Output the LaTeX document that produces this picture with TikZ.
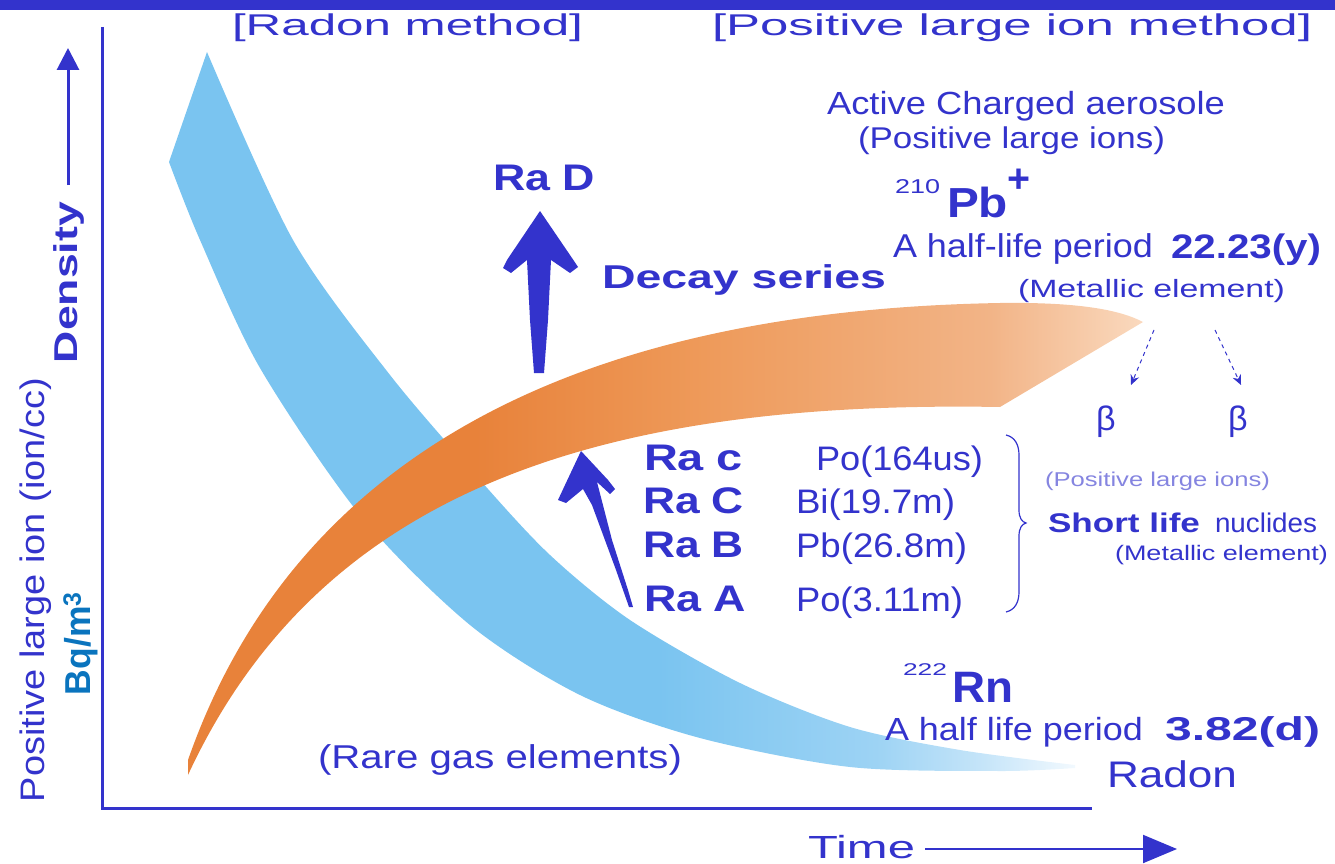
\documentclass[tikz,border=0pt]{standalone}
\usepackage{fontspec}
\setmainfont{Liberation Sans}
\usepackage{graphicx}
\usetikzlibrary{arrows.meta}
\definecolor{mblue}{HTML}{3333CC}
\definecolor{bqblue}{HTML}{0A74BE}
\definecolor{bA}{HTML}{7AC4F0}
\definecolor{bB}{HTML}{9DD3F4}
\definecolor{bC}{HTML}{C6E5F9}
\definecolor{bD}{HTML}{F2F9FE}
\definecolor{oA}{HTML}{E8823A}
\definecolor{oB}{HTML}{EE9A5A}
\definecolor{oC}{HTML}{F2B487}
\definecolor{oD}{HTML}{FAD9BE}
\pgfdeclarehorizontalshading{blueband}{100bp}{color(0bp)=(bA); color(25bp)=(bA); color(52bp)=(bA); color(64bp)=(bB); color(70bp)=(bC); color(75bp)=(bD); color(100bp)=(bD)}
\pgfdeclarehorizontalshading{orangeband}{100bp}{color(0bp)=(oA); color(25bp)=(oA); color(40bp)=(oA); color(52bp)=(oB); color(67bp)=(oC); color(75bp)=(oD); color(100bp)=(oD)}
\newcommand\T[3]{\fontsize{#1}{#1}\selectfont\resizebox{#2pt}{\height}{#3}}
\tikzset{
  txt/.style={inner sep=0pt, outer sep=0pt, text=mblue, anchor=base west},
  axisline/.style={draw=mblue, line width=3pt},
  bigarrow/.style={fill=mblue},
  betaarrow/.style={draw=mblue, line width=1pt, dash pattern=on 4pt off 4pt, -{Stealth[length=10pt,width=9pt]}}
}
\begin{document}
\begin{tikzpicture}[x=1pt,y=-1pt]
\useasboundingbox (0,0) rectangle (1335,864);
% top bar
\fill[mblue] (0,0) rectangle (1335,10);
% bands
\shade[shading=blueband] plot[smooth] coordinates {(207,52) (293,240) (390,375) (480,480) (550,555) (630,620) (740,683) (850,727) (960,750) (1075,765)}
  -- plot[smooth] coordinates {(1075,768) (1000,771) (850,767) (700,738) (580,695) (470,625) (360,515) (260,368) (200,240) (169,162)} -- cycle;
\shade[shading=orangeband] (188,760) .. controls (300,440) and (600,310) .. (1000,303) .. controls (1080,302) and (1120,310) .. (1143,322)
  -- (1000,407) .. controls (600,400) and (320,490) .. (188,775) -- cycle;
% axes
\coordinate (ytop) at (102,27);
\coordinate (orig) at (102,808);
\coordinate (xend) at (1092,808);
\draw[axisline] (ytop) -- (orig) -- (xend);
% density arrow
\coordinate (dS) at (68,185);
\coordinate (dE) at (68,48);
\draw[draw=mblue, line width=3pt, -{Triangle[length=22pt,width=22pt]}] (dS) -- (dE);
% time arrow
\coordinate (tS) at (925,849);
\coordinate (tE) at (1177,849);
\draw[draw=mblue, line width=2pt, -{Triangle[length=34pt,width=28pt]}] (tS) -- (tE);
% Ra D arrow
\fill[bigarrow] (540,211) -- (572,258) -- (578,267) -- (570,273) -- (551,260) -- (548,320) -- (544,373) -- (534,373) -- (530,320) -- (527,260) -- (511,273) -- (503,268) -- (507,260) -- cycle;
% slanted arrow
\fill[bigarrow] (581,451) -- (608,480) -- (615,489) -- (610,494) -- (597,482) -- (612,540) -- (628,590) -- (633,607) -- (629,607) -- (616,570) -- (592,505) -- (583,489) -- (566,503) -- (558,500) -- (565,485) -- cycle;
% beta arrows
\coordinate (b1S) at (1154,330);
\coordinate (b1E) at (1131,385);
\coordinate (b2S) at (1215,330);
\coordinate (b2E) at (1241,385);
\draw[betaarrow] (b1S) -- (b1E);
\draw[betaarrow] (b2S) -- (b2E);
% brace
\draw[draw=mblue, line width=1.2pt] (1006,435) .. controls (1015,437) and (1019,445) .. (1019,455) -- (1019,510) .. controls (1019,518) and (1022,522) .. (1026,523) .. controls (1022,524) and (1019,528) .. (1019,536) -- (1019,592) .. controls (1019,602) and (1015,610) .. (1006,612);
% texts
\node[txt] (radonm) at (232,36) {\T{30}{351}{[Radon method]}};
\node[txt] (posm) at (712,36) {\T{30}{600}{[Positive large ion method]}};
\node[txt] (rad) at (493,190) {\T{37}{102}{\bfseries Ra D}};
\node[txt] (decay) at (602,288) {\T{33}{284}{\bfseries Decay series}};
\node[txt] (active) at (827,115) {\T{32}{398}{Active Charged aerosole}};
\node[txt] (posions) at (858,149) {\T{30}{307}{(Positive large ions)}};
\node[txt] (m210) at (895,193) {\T{20}{45}{210}};
\node[txt] (pb) at (947,217) {\T{42}{61}{\bfseries Pb}};
\node[txt] (plus) at (1007,192) {\T{40}{23}{\bfseries +}};
\node[txt] (halfpb) at (893,257) {\T{33}{260}{A half-life period}};
\node[txt] (pbval) at (1171,258) {\T{34}{150}{\bfseries 22.23(y)}};
\node[txt] (metal1) at (1018,297) {\T{25}{267}{(Metallic element)}};
\node[txt, anchor=base] (beta1) at (1106,430) {\fontsize{34}{34}\selectfont β};
\node[txt, anchor=base] (beta2) at (1238,430) {\fontsize{34}{34}\selectfont β};
\node[txt, text=mblue!60] (posions2) at (1045,486) {\T{20}{225}{(Positive large ions)}};
\node[txt] (short) at (1048,532) {\T{27}{152}{\bfseries Short life}};
\node[txt] (nucl) at (1215,532) {\T{27}{102}{nuclides}};
\node[txt] (metal2) at (1115,560) {\T{21}{213}{(Metallic element)}};
\node[txt] (rac) at (644,470) {\T{37}{99}{\bfseries Ra c}};
\node[txt] (raC) at (643,513) {\T{37}{101}{\bfseries Ra C}};
\node[txt] (raB) at (643,557) {\T{37}{101}{\bfseries Ra B}};
\node[txt] (raA) at (644,611) {\T{37}{102}{\bfseries Ra A}};
\node[txt] (vc) at (816,470) {\T{34}{167}{Po(164us)}};
\node[txt] (vC) at (796,513) {\T{34}{159}{Bi(19.7m)}};
\node[txt] (vB) at (796,557) {\T{34}{171}{Pb(26.8m)}};
\node[txt] (vA) at (796,611) {\T{34}{167}{Po(3.11m)}};
\node[txt] (m222) at (903,675) {\T{17}{44}{222}};
\node[txt] (rn) at (952,702) {\T{44}{61}{\bfseries Rn}};
\node[txt] (halfrn) at (885,740) {\T{32}{258}{A half life period}};
\node[txt] (rnval) at (1165,740) {\T{33}{155}{\bfseries 3.82(d)}};
\node[txt] (radon) at (1107,787) {\T{37}{130}{Radon}};
\node[txt] (rare) at (318,768) {\T{33}{364}{(Rare gas elements)}};
\node[txt] (time) at (808,858) {\T{32}{107}{Time}};
\node[txt, rotate=90] (density) at (77,363) {\T{33}{161}{\bfseries Density}};
\node[txt, rotate=90] (ylabel) at (44,802) {\T{34}{424}{Positive large ion (ion/cc)}};
\node[txt, rotate=90, text=bqblue] (bq) at (90,695) {\T{36}{103}{\bfseries Bq/m\textsuperscript{3}}};
\end{tikzpicture}
\end{document}
